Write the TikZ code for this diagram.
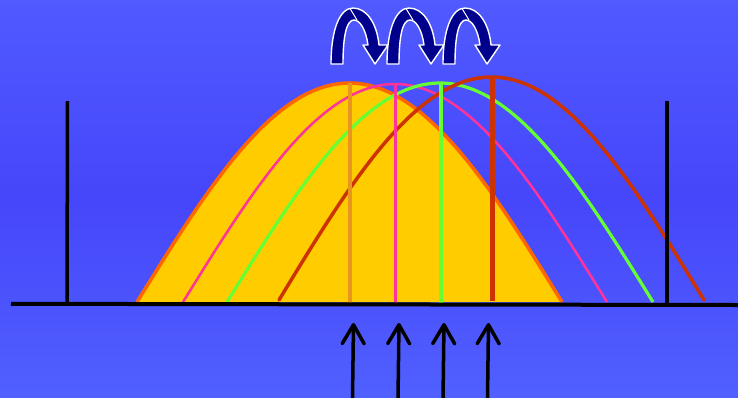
\documentclass[tikz,border=0pt]{standalone}
\usetikzlibrary{arrows.meta}
\definecolor{bgtop}{RGB}{80,90,255}
\definecolor{bgmid}{RGB}{70,70,250}
\definecolor{bgbot}{RGB}{80,96,255}
\definecolor{gold}{RGB}{255,204,0}
\definecolor{orng}{RGB}{255,102,0}
\definecolor{orngline}{RGB}{232,150,30}
\definecolor{pnk}{RGB}{255,51,153}
\definecolor{grn}{RGB}{102,255,51}
\definecolor{rd}{RGB}{204,51,0}
\definecolor{navy}{RGB}{0,0,140}
\tikzset{
  wave/.style={line width=#1, line join=round},
  peakline/.style={line width=#1},
  axisline/.style={line width=4pt, black},
  wallline/.style={line width=3.5pt, black},
  uparrow/.style={line width=3.5pt, black, line cap=butt,
    -{Straight Barb[length=19pt,width=22pt,line cap=round,line join=round]}},
  hoparrow/.pic={
    \path[fill=navy, draw=white, line width=1.4pt, line join=round]
      (0,0) .. controls (0,-35) and (9,-56) .. (22,-56)
      .. controls (36,-56) and (46,-40) .. (48,-19)
      -- (57,-19) -- (44,0) -- (32,-19) -- (37,-19)
      .. controls (35,-34) and (29,-44) .. (23,-44)
      .. controls (16,-44) and (12,-30) .. (12,0) -- cycle;
    \draw[white, line width=1pt] (19,-55.5) -- (26,-44);
  }
}
\begin{document}
\begin{tikzpicture}[x=1pt,y=-1pt]
\useasboundingbox (0,0) rectangle (738,397);
\shade[top color=bgtop, bottom color=bgbot, middle color=bgmid] (0,0) rectangle (738,397);

% curves
\draw[wave=3.5pt, draw=orng, fill=gold]
  plot[domain=137:562, samples=120, smooth] (\x, {302 - 219*sin((\x-137)/425*180)});
\draw[wave=2.5pt, pnk]
  plot[domain=183:607, samples=120, smooth] (\x, {302 - 218*sin((\x-183)/424*180)});
\draw[wave=3.2pt, grn]
  plot[domain=227:653, samples=120, smooth] (\x, {302 - 219*sin((\x-227)/426*180)});
\draw[wave=3.5pt, rd, line cap=round]
  plot[domain=279:704, samples=120, smooth] (\x, {300 - 223*sin((\x-279)/425*180)});

% peak lines
\coordinate (po) at (350,83);  \coordinate (bo) at (350,303);
\coordinate (pp) at (395,84);  \coordinate (bp) at (395,303);
\coordinate (pg) at (441,83);  \coordinate (bg) at (441,303);
\coordinate (pr) at (492,76);  \coordinate (br) at (492,300.5);
\draw[peakline=4pt, orngline] (po) -- (bo);
\draw[peakline=3pt, pnk] (pp) -- (bp);
\draw[peakline=3.2pt, grn] (pg) -- (bg);
\draw[peakline=5pt, rd] (pr) -- (br);

% axis and walls
\coordinate (axl) at (11,303.8); \coordinate (axr) at (738,305);
\draw[axisline] (axl) -- (axr);
\coordinate (wlt) at (67.5,101); \coordinate (wlb) at (67,304);
\coordinate (wrt) at (667,101); \coordinate (wrb) at (667,305);
\draw[wallline] (wlt) -- (wlb);
\draw[wallline] (wrt) -- (wrb);

% bottom arrows
\foreach \i/\xb/\xt in {1/352.5/353.5, 2/398/399, 3/443/444, 4/487.5/488.5}{
  \coordinate (ab\i) at (\xb,398);
  \coordinate (at\i) at (\xt,323);
  \draw[uparrow] (ab\i) -- (at\i);
}

% hopping arrows
\pic at (331,64) {hoparrow};
\pic at (387,64) {hoparrow};
\pic at (443,64) {hoparrow};
\end{tikzpicture}
\end{document}
